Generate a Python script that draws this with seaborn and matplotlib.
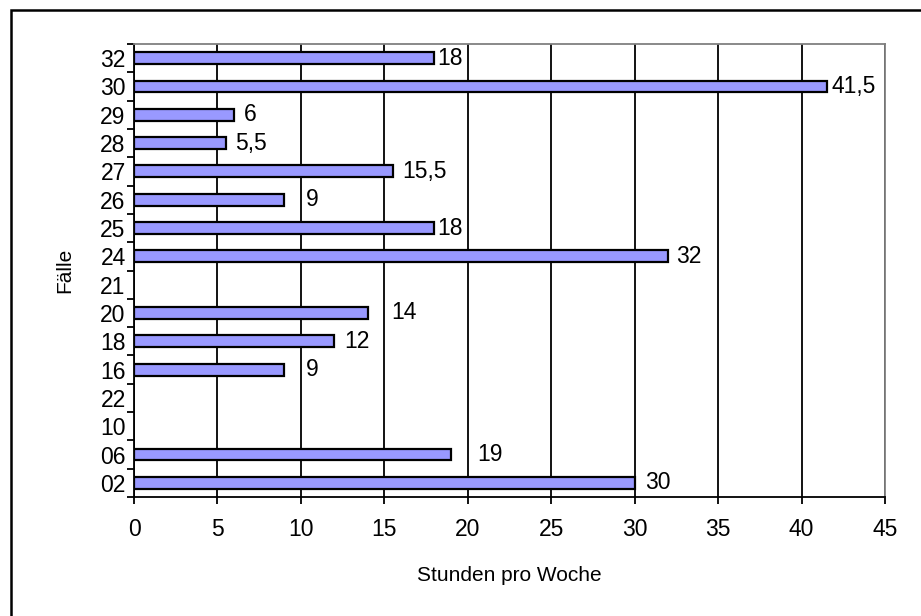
import numpy as np
import pandas as pd
import matplotlib
matplotlib.use("Agg")
import matplotlib.pyplot as plt
import seaborn as sns
from matplotlib.patches import Rectangle

# categories from top to bottom
faelle = ["32", "30", "29", "28", "27", "26", "25", "24", "21",
          "20", "18", "16", "22", "10", "06", "02"]
stunden = [18, 41.5, 6, 5.5, 15.5, 9, 18, 32, np.nan,
           14, 12, 9, np.nan, np.nan, 19, 30]

df = pd.DataFrame({"Fälle": faelle, "Stunden": stunden})

sns.set_style("white")
plt.rcParams["font.family"] = ["Liberation Sans", "DejaVu Sans"]
plt.rcParams["text.color"] = "black"
plt.rcParams["axes.labelcolor"] = "black"
plt.rcParams["xtick.color"] = "black"
plt.rcParams["ytick.color"] = "black"

# label gap (pixels) after the bar end, as Excel placed them
label_gap = [3, 5, 10, 9, 10, 22, 3, 8, 0, 24, 10, 22, 0, 0, 26, 10]

fig = plt.figure(figsize=(9.21, 6.16), dpi=100)
ax = fig.add_axes([134 / 921, 1 - 497 / 616, (885 - 134) / 921, (497 - 44) / 616])

sns.barplot(data=df, x="Stunden", y="Fälle", order=faelle, orient="h",
            color="#9999FF", saturation=1, edgecolor="black", linewidth=1.6,
            width=0.42, ax=ax)

ax.set_xlim(0, 45)
ax.set_ylim(len(faelle) - 0.5, -0.5)
ax.set_xticks(np.arange(0, 50, 5))
ax.set_axisbelow(True)
ax.grid(axis="x", color="black", linewidth=1.3)
ax.grid(axis="y", visible=False)

# tick marks between categories, Excel style
ax.set_yticks(np.arange(-0.5, len(faelle), 1), minor=True)
ax.tick_params(axis="y", which="major", length=0, labelsize=16.5, pad=6)
ax.tick_params(axis="y", which="minor", length=5, width=1.3, color="black", left=True)
ax.tick_params(axis="x", length=5, width=1.3, color="black", bottom=True, labelsize=16.5, pad=10)

for s in ["left", "bottom"]:
    ax.spines[s].set_color("black")
    ax.spines[s].set_linewidth(1.3)
for s in ["top", "right"]:
    ax.spines[s].set_color("#808080")
    ax.spines[s].set_linewidth(1.3)

for i, v in enumerate(stunden):
    if np.isnan(v):
        continue
    txt = f"{v:g}".replace(".", ",")
    ax.annotate(txt, (v, i), xytext=(label_gap[i], 0), textcoords="offset pixels",
                ha="left", va="center", fontsize=16.5)

ax.set_xlabel("Stunden pro Woche", fontsize=15, labelpad=18)
ax.set_ylabel("Fälle", fontsize=15, labelpad=19)

# outer frame (left and top edges visible)
fig.add_artist(Rectangle((11 / 921, -0.5), 2, 1.5 - 10 / 616,
                         transform=fig.transFigure, fill=False,
                         edgecolor="black", linewidth=1.8))

fig.savefig("out.png", dpi=100)
